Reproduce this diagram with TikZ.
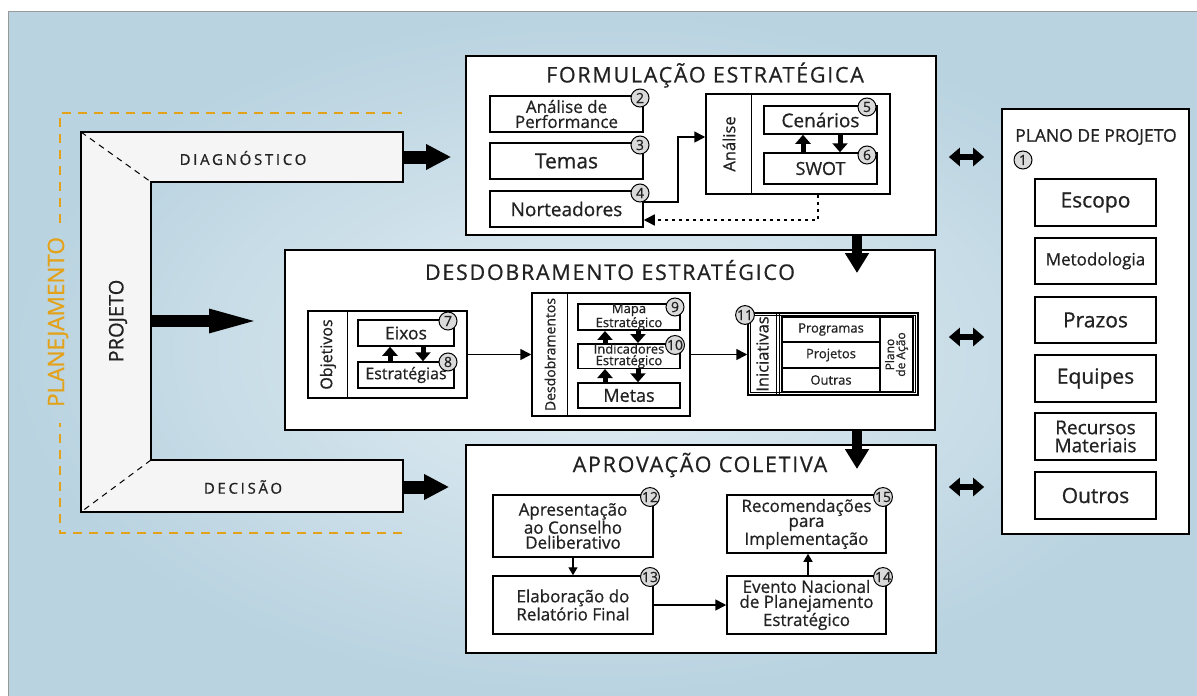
\documentclass[tikz,border=0pt]{standalone}
\usepackage{fontspec}
\setmainfont{Open Sans}[FakeBold=0.7]
\usetikzlibrary{arrows.meta,calc}
\definecolor{txt}{HTML}{222222}
\definecolor{orng}{HTML}{E3A21A}
\definecolor{bgin}{HTML}{E3EEF4}
\definecolor{bgout}{HTML}{B9D3E0}
\definecolor{projfill}{HTML}{F5F5F5}
\definecolor{numfill}{HTML}{DADADA}
\newcommand{\fs}[2]{\fontsize{#1}{#2}\selectfont}
\tikzset{
  every node/.style={text=txt},
  box/.style={draw=black, line width=1.7pt, fill=white, inner sep=0pt},
  ibox/.style={draw=black, line width=1.5pt, fill=white, inner sep=0pt, align=center},
  cell/.style={draw=black, line width=1.2pt, fill=white, inner sep=0pt, align=center, font=\fs{13}{13}},
  num/.style={circle, draw=black, line width=1pt, fill=numfill, inner sep=0pt, minimum size=18pt, font=\fs{14}{14}},
  ttl/.style={font=\fs{21.5}{21.5}\addfontfeature{LetterSpace=8}},
  lbl/.style={font=\fs{15}{15}\addfontfeature{LetterSpace=18}},
  thinarrow/.style={line width=1.6pt, -{Triangle[length=11pt,width=11pt]}},
  smallarrow/.style={line width=1.4pt, -{Triangle[length=8pt,width=9pt]}},
  dotarrow/.style={line width=1.6pt, dash pattern=on 3pt off 4pt, -{Triangle[length=11pt,width=11pt]}},
  sarrow/.style={line width=5pt, -{Triangle[length=9pt,width=15pt]}},
  bigarrow/.style={line width=13pt, -{Triangle[length=25pt,width=24pt]}},
  longarrow/.style={line width=12pt, -{Triangle[length=57pt,width=20pt]}},
  vbig/.style={line width=10pt, -{Triangle[length=20pt,width=23pt]}},
  dbl/.style={line width=6pt, {Triangle[length=11pt,width=18pt]}-{Triangle[length=11pt,width=18pt]}},
  odash/.style={orng, line width=2pt, dash pattern=on 9pt off 7pt}
}
\begin{document}
\begin{tikzpicture}[x=1pt,y=-1pt]
\useasboundingbox (0,0) rectangle (1197,696);
\fill[white] (0,0) rectangle (1197,696);
\shade[inner color=bgin, outer color=bgout] (8,11) rectangle (1197,696);
\draw[black!40, line width=1pt] (8,696) -- (8,11) -- (1197,11);

% planejamento frame
\draw[odash] (60,223) -- (60,113) -- (402,113);
\draw[odash] (402,533) -- (60,533) -- (60,423);
\node[rotate=90, text=orng, font=\fs{22.5}{22.5}] (plan) at (58,322) {PLANEJAMENTO};

% projeto shape
\draw[line width=1.8pt, fill=projfill] (81,132) -- (403,132) -- (403,182) -- (151,182) -- (151,460) -- (403,460) -- (403,512) -- (81,512) -- cycle;
\draw[line width=1pt, dash pattern=on 6pt off 5pt] (81,132) -- (151,182);
\draw[line width=1pt, dash pattern=on 6pt off 5pt] (151,460) -- (81,512);
\node[lbl] (diag) at (243,158) {DIAGNÓSTICO};
\node[lbl] (dec) at (243,487) {DECISÃO};
\node[rotate=90, font=\fs{20}{20}] (proj) at (118,321) {PROJETO};

% ===== FORMULACAO =====
\node[box, minimum width=470pt, minimum height=179pt] (form) at (701,145.5) {};
\node[ttl] (formt) at (705,75) {FORMULAÇÃO ESTRATÉGICA};
\node[ibox, minimum width=153pt, minimum height=36pt, font=\fs{17}{15}] (perf) at (566.5,114) {Análise de\\Performance};
\node[ibox, minimum width=153pt, minimum height=36pt, font=\fs{21}{21}] (temas) at (566.5,161) {Temas};
\node[ibox, minimum width=153pt, minimum height=36pt, font=\fs{19}{19}] (nort) at (566.5,209) {Norteadores};
\node[ibox, minimum width=184pt, minimum height=100pt] (anal) at (798,144) {};
\draw[line width=1.5pt] ($(anal.north west)+(46,0)$) -- ($(anal.south west)+(46,0)$);
\node[rotate=90, font=\fs{16.5}{16.5}] (analt) at (729,144) {Análise};
\node[ibox, minimum width=113pt, minimum height=28pt, font=\fs{19}{19}] (cen) at (820.5,120) {Cenários};
\node[ibox, minimum width=113pt, minimum height=31pt, font=\fs{18}{18}] (swot) at (820.5,168.5) {SWOT};
\node[num] (c2) at (640,98) {2};
\node[num] (c3) at (640,145) {3};
\node[num] (c4) at (640,193) {4};
\node[num] (c5) at (867,107) {5};
\node[num] (c6) at (867,155) {6};
\coordinate (b1) at (678,137);
\draw[thinarrow] ([yshift=7pt]nort.east) -| (b1) -- (anal.west |- b1);
\coordinate (b2) at (818,220);
\draw[dotarrow] (anal.south -| b2) -- (b2) -- (nort.east |- b2);
\draw[sarrow] ([xshift=-17.5pt]swot.north) -- ([xshift=-17.5pt]cen.south);
\draw[sarrow] ([xshift=19.5pt]cen.south) -- ([xshift=19.5pt]swot.north);

% ===== DESDOBRAMENTO =====
\node[box, minimum width=650pt, minimum height=180pt] (desd) at (610,340) {};
\node[ttl] (desdt) at (610,270) {DESDOBRAMENTO ESTRATÉGICO};
\node[ibox, minimum width=159pt, minimum height=87pt] (obj) at (387.5,354.5) {};
\draw[line width=1.5pt] ($(obj.north west)+(40,0)$) -- ($(obj.south west)+(40,0)$);
\node[rotate=90, font=\fs{16}{16}] (objt) at (328,354.5) {Objetivos};
\node[ibox, minimum width=96pt, minimum height=26pt, font=\fs{17.5}{17.5}] (eixos) at (406,333) {Eixos};
\node[ibox, minimum width=96pt, minimum height=26pt, font=\fs{16}{16}] (estr) at (406,375) {Estratégias};
\node[num] (c7) at (448,321) {7};
\node[num] (c8) at (448,362) {8};
\draw[sarrow] ([xshift=-16pt]estr.north) -- ([xshift=-16pt]eixos.south);
\draw[sarrow] ([xshift=17pt]eixos.south) -- ([xshift=17pt]estr.north);

\node[ibox, minimum width=158pt, minimum height=123pt] (desdb) at (611,354.5) {};
\draw[line width=1.5pt] ($(desdb.north west)+(36,0)$) -- ($(desdb.south west)+(36,0)$);
\node[rotate=90, font=\fs{14}{14}] (desdbt) at (550,354.5) {Desdobramentos};
\node[ibox, minimum width=102pt, minimum height=24pt, font=\fs{13}{11.5}] (mapa) at (629,317) {Mapa\\Estratégico};
\node[ibox, minimum width=102pt, minimum height=24pt, font=\fs{13}{11.5}] (indic) at (629,356) {Indicadores\\Estratégico};
\node[ibox, minimum width=102pt, minimum height=25pt, font=\fs{18}{18}] (metas) at (629,395.5) {Metas};
\node[num] (c9) at (675,307) {9};
\node[num] (c10) at (675,345) {10};
\draw[sarrow] ([xshift=-24pt]indic.north) -- ([xshift=-24pt]mapa.south);
\draw[sarrow] ([xshift=9pt]mapa.south) -- ([xshift=9pt]indic.north);
\draw[sarrow] ([xshift=-24pt]metas.north) -- ([xshift=-24pt]indic.south);
\draw[sarrow] ([xshift=9pt]indic.south) -- ([xshift=9pt]metas.north);

\node[ibox, minimum width=170pt, minimum height=82pt] (inic) at (833,354) {};
\draw[line width=1.2pt] ($(inic.north west)+(3,3)$) rectangle ($(inic.south east)+(-3,-3)$);
\draw[line width=1.2pt] ($(inic.north west)+(29,0)$) -- ($(inic.south west)+(29,0)$);
\draw[line width=1.2pt] ($(inic.north west)+(32,0)$) -- ($(inic.south west)+(32,0)$);
\node[rotate=90, font=\fs{16.5}{16.5}] (inict) at (762.5,354) {Iniciativas};
\node[cell, minimum width=98pt, minimum height=25pt] (prog) at (831,329.5) {Programas};
\node[cell, minimum width=98pt, minimum height=26pt] (projs) at (831,355) {Projetos};
\node[cell, minimum width=98pt, minimum height=24pt] (outr) at (831,380) {Outras};
\node[cell, rotate=90, minimum width=75pt, minimum height=33pt, font=\fs{12}{11}] (pda) at (896.5,354.5) {Plano\\de Ação};
\node[num] (c11) at (745,315) {11};
\draw[thinarrow] (obj.east) -- (desdb.west |- obj.east);
\draw[thinarrow] (desdb.east) -- (inic.west |- desdb.east);

% ===== APROVACAO =====
\node[box, minimum width=470pt, minimum height=208pt] (aprov) at (701,549) {};
\node[ttl] (aprovt) at (700,465) {APROVAÇÃO COLETIVA};
\node[ibox, minimum width=160pt, minimum height=62pt, font=\fs{17}{15}] (apres) at (573,526) {Apresentação\\ao Conselho\\Deliberativo};
\node[ibox, minimum width=160pt, minimum height=58pt, font=\fs{17}{15}] (elab) at (573,605) {Elaboração do\\Relatório Final};
\node[ibox, minimum width=159pt, minimum height=58pt, font=\fs{17}{15}] (evento) at (806.5,605) {Evento Nacional\\de Planejamento\\Estratégico};
\node[ibox, minimum width=159pt, minimum height=58pt, font=\fs{17}{15}] (recom) at (806.5,524) {Recomendações\\para\\Implementação};
\node[num] (c12) at (650,497) {12};
\node[num] (c13) at (650,577) {13};
\node[num] (c14) at (883,577) {14};
\node[num] (c15) at (883,497) {15};
\draw[smallarrow] (apres.south) -- (elab.north);
\draw[thinarrow] (elab.east) -- (evento.west);
\draw[smallarrow] ([xshift=1.5pt]evento.north) -- ([xshift=1.5pt]recom.south);

% ===== PLANO DE PROJETO =====
\node[box, minimum width=187pt, minimum height=425pt] (plano) at (1095.5,321.5) {};
\node[font=\fs{17.5}{17.5}] (planot) at (1096,137) {PLANO DE PROJETO};
\node[num] (c1) at (1023,160) {1};
\node[ibox, minimum width=121pt, minimum height=47pt, font=\fs{21}{21}] (escopo) at (1095.5,202.5) {Escopo};
\node[ibox, minimum width=121pt, minimum height=46pt, font=\fs{17}{17}] (metod) at (1095.5,261) {Metodologia};
\node[ibox, minimum width=121pt, minimum height=46pt, font=\fs{21}{21}] (prazos) at (1095.5,320) {Prazos};
\node[ibox, minimum width=121pt, minimum height=47pt, font=\fs{21}{21}] (equipes) at (1095.5,378.5) {Equipes};
\node[ibox, minimum width=121pt, minimum height=47pt, font=\fs{19}{18}] (recur) at (1095.5,436.5) {Recursos\\Materiais};
\node[ibox, minimum width=121pt, minimum height=47pt, font=\fs{21}{21}] (outros) at (1095.5,495.5) {Outros};

% ===== big connectors =====
\coordinate (diagR) at (403,157);
\draw[bigarrow, shorten >=14pt] (diagR) -- (form.west |- diagR);
\coordinate (projR) at (151,321);
\draw[longarrow, shorten >=18pt] (projR) -- (desd.west |- projR);
\coordinate (decR) at (403,487);
\draw[bigarrow, shorten >=16pt] (decR) -- (aprov.west |- decR);
\coordinate (v1) at (857,273);
\draw[vbig] (form.south -| v1) -- (v1);
\coordinate (v2) at (857,469);
\draw[vbig] (desd.south -| v2) -- (v2);
\coordinate (d1) at (966,157);
\coordinate (d2) at (966,337);
\coordinate (d3) at (966,487);
\draw[dbl, shorten <=12pt, shorten >=17pt] (form.east |- d1) -- (plano.west |- d1);
\draw[dbl, shorten <=13pt, shorten >=17pt] (desd.east |- d2) -- (plano.west |- d2);
\draw[dbl, shorten <=12pt, shorten >=17pt] (aprov.east |- d3) -- (plano.west |- d3);
\end{tikzpicture}
\end{document}
